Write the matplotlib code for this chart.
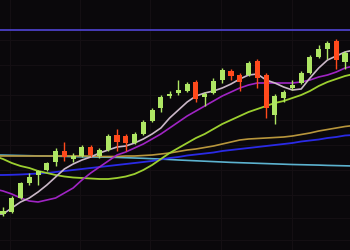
import numpy as np
import matplotlib
matplotlib.use("Agg")
import matplotlib.pyplot as plt

# candle data (index 0..39)
opens  = [36, 38, 52, 67, 75, 80, 88, 99, 91, 94, 103, 94, 100, 115, 114, 107, 116, 129, 142, 154,
          157, 159, 168, 153, 157, 170, 179, 175, 175, 189, 175, 135, 152, 162, 167, 177, 193, 201, 209, 188]
closes = [39, 52, 67, 73, 79, 87, 99, 93, 94, 103, 95, 100, 114, 108, 107, 116, 128, 140, 153, 156,
          160, 166, 151, 156, 169, 180, 174, 168, 187, 172, 142, 154, 158, 165, 177, 193, 201, 207, 190, 197]
highs  = [43, 54, 68, 77, 80, 88, 102, 108, 97, 105, 105, 102, 116, 121, 116, 118, 130, 142, 155, 159,
          170, 168, 170, 158, 172, 182, 181, 177, 189, 191, 177, 156, 160, 170, 179, 195, 205, 209, 211, 199]
lows   = [34, 37, 51, 65, 65, 79, 84, 89, 88, 93, 93, 92, 99, 99, 99, 106, 115, 128, 138, 152,
          155, 158, 148, 144, 156, 167, 170, 159, 174, 162, 132, 126, 148, 160, 166, 176, 192, 191, 181, 181]

# moving average lines (index -1..40)
ma_x = np.arange(-1, 41)
ma5 = [36, 36, 42, 48, 52, 58, 65, 73, 81, 86, 90, 93, 97, 100, 103, 104, 107, 111, 116, 122, 132,
       140, 148, 154, 157, 159, 162, 166, 171, 175, 176, 170, 167, 163, 160, 161, 172, 182, 190, 194, 198, 200]
ma10 = [61, 59, 56, 52, 49, 48, 50, 52, 57, 62, 70, 77, 83, 89, 95, 98, 102, 106, 111, 116, 122,
        128, 134, 139, 144, 149, 154, 158, 162, 165, 167, 167, 167, 167, 167, 168, 170, 173, 175, 178, 182, 184]
ma20 = [94, 91, 87, 84, 82, 79, 77, 75, 73.5, 72.5, 72, 71.5, 71, 71, 72, 73.5, 76, 80, 85, 91, 97,
        102, 107, 112, 116, 121, 126, 130, 134, 138, 141, 144, 147, 149, 152, 155, 159, 164, 168, 171, 174, 176]
ma30 = [94, 94, 94, 94, 94, 94, 94, 94, 94, 94, 94, 94, 93.5, 93.5, 93.5, 94, 94, 94.5, 95, 96, 97,
        98.5, 100, 101, 102.5, 104, 106, 108, 110, 111, 111.5, 112, 112.5, 113, 114, 115.5, 117, 119, 120.5, 122, 123.5, 124.5]
ma60 = [75, 75, 75.2, 75.5, 76, 76.5, 77, 78, 79, 80, 81, 82, 83, 84, 85, 86, 87, 88, 89, 90.5, 92,
        93, 94.5, 95.5, 96.5, 97.5, 99, 100, 101, 102, 103, 104, 105, 106, 107, 108.5, 109.5, 110.5, 112, 113, 114.5, 115]
ma120 = [95, 94.9, 94.7, 94.5, 94.3, 94.1, 94, 93.8, 93.6, 93.4, 93.2, 93, 92.9, 92.8, 92.6, 92.3, 92, 91.7, 91.3, 90.9, 90.5,
         90, 89.6, 89.2, 88.8, 88.4, 88, 87.6, 87.3, 87, 86.7, 86.4, 86.1, 85.8, 85.5, 85.3, 85.1, 84.9, 84.6, 84.4, 84.2, 84]
top_level = 220

bg = "#0a080b"
green = "#aee664"
red = "#ff4a1c"

fig = plt.figure(figsize=(3.5, 2.5), dpi=100)
fig.patch.set_facecolor(bg)
ax = fig.add_axes([0, 0, 1, 1])
ax.set_facecolor(bg)

# faint grid
for gx in [10, 80, 150, 221, 292]:
    ax.axvline((gx - 3) / 8.77, color="#151014", lw=0.7, zorder=0)
for gy in [10, 32, 55, 80, 105, 130, 155, 185, 210]:
    ax.axhline(gy, color="#151014", lw=0.7, zorder=0)

ax.axhline(top_level, color="#4b40c6", lw=1.3, zorder=1)

ax.plot(ma_x, ma120, color="#5cb2cf", lw=1.2, zorder=2)
ax.plot(ma_x, ma30, color="#b8963c", lw=1.2, zorder=2)
ax.plot(ma_x, ma60, color="#2a2ae6", lw=1.3, zorder=2)
ax.plot(ma_x, ma20, color="#9ccf30", lw=1.3, zorder=2)
ax.plot(ma_x, ma10, color="#a024c4", lw=1.2, zorder=2)
ax.plot(ma_x, ma5, color="#cbb8c8", lw=1.2, zorder=2)

idx = np.arange(len(opens))
o = np.array(opens)
c = np.array(closes)
cols = [green if cc >= oo else red for oo, cc in zip(o, c)]
ax.vlines(idx, lows, highs, colors=cols, lw=1.0, zorder=3)
ax.bar(idx, np.abs(c - o), bottom=np.minimum(o, c), width=0.58, color=cols, zorder=4)

ax.set_xlim(-3 / 8.77, 347 / 8.77)
ax.set_ylim(0, 250)
ax.axis("off")

fig.savefig("out.png", dpi=100, facecolor=bg)
